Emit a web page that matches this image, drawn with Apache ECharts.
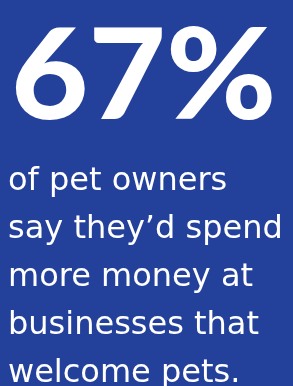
<!DOCTYPE html>
<html style="height: 100%">
<head>
  <meta charset="utf-8">
  <title>67% of pet owners</title>
</head>
<body style="height: 100%; margin: 0; background: #23409a">
  <div id="container" style="width: 293px; height: 386px"></div>
  <script src="https://cdn.jsdelivr.net/npm/echarts@6/dist/echarts.min.js"></script>
  <script type="text/javascript">
    var statValue = 67;
    var statUnit = '%';
    var captionLines = [
      'of pet owners',
      'say they\u2019d spend',
      'more money at',
      'businesses that',
      'welcome pets.'
    ];

    var chart = echarts.init(document.getElementById('container'));

    var elements = [{
      type: 'text',
      x: 11,
      y: 15,
      scaleX: 1.06,
      style: {
        text: statValue + statUnit,
        fill: '#fff',
        font: '900 126px Lato',
        verticalAlign: 'top'
      }
    }];
    captionLines.forEach(function (line, i) {
      elements.push({
        type: 'text',
        x: 8,
        y: 166 + i * 48,
        style: {
          text: line,
          fill: '#fff',
          font: '400 32px "DejaVu Sans"',
          verticalAlign: 'top'
        }
      });
    });

    chart.setOption({
      backgroundColor: '#23409a',
      graphic: elements
    });
  </script>
</body>
</html>
